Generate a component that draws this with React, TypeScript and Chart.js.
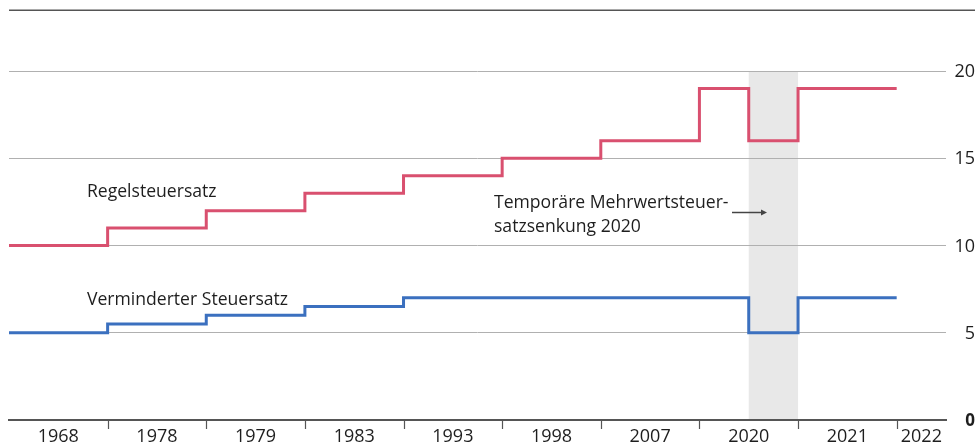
import React, { useEffect, useRef } from "react";
import { Chart, registerables } from "chart.js";

Chart.register(...registerables);

// Period labels (each label sits between two boundary tick marks)
const periodLabels = ["1968", "1978", "1979", "1983", "1993", "1998", "2007", "2020", "2021", "2022"];
// Start of each period on the x scale (period units); the last period ends at periodEnd
const periodStarts = [0, 1, 2, 3, 4, 5, 6, 7, 8, 9];
const periodEnd = 9.5;

// Regelsteuersatz: change points (x) and rate from there on (y)
const regelX = [0, 1, 2, 3, 4, 5, 6, 7, 7.5, 8, 9];
const regelY = [10, 11, 12, 13, 14, 15, 16, 19, 16, 19, 19];

// Verminderter Steuersatz
const vermX = [0, 1, 2, 3, 4, 7.5, 8, 9];
const vermY = [5, 5.5, 6, 6.5, 7, 5, 7, 7];

const yTicks = [0, 5, 10, 15, 20];
const yTickLabels = ["0", "5", "10", "15", "20"];
const yMax = 23.5;

// Temporary reduction band
const bandX = [7.5, 8];
const bandTopValue = 20;

const FONT = '"Open Sans", "Noto Sans", sans-serif';
const RED = "#d9506f";
const BLUE = "#3b70bf";
const TEXT = "#1e1e1e";

export default function App() {
  const canvasRef = useRef<HTMLCanvasElement | null>(null);

  useEffect(() => {
    let chart: Chart | null = null;
    let cancelled = false;

    const labelCenters = periodStarts.map((s, i) => {
      const e = i < periodStarts.length - 1 ? periodStarts[i + 1] : periodEnd;
      return (s + e) / 2;
    });

    const decorPlugin = {
      id: "decor",
      beforeDraw(c: any) {
        const { ctx, scales } = c;
        const x = scales.x;
        const y = scales.y;
        ctx.save();
        ctx.fillStyle = "#e8e8e8";
        const x0 = x.getPixelForValue(bandX[0]);
        const x1 = x.getPixelForValue(bandX[1]);
        const yt = y.getPixelForValue(bandTopValue);
        const yb = y.getPixelForValue(0);
        ctx.fillRect(x0, yt, x1 - x0, yb - yt);
        ctx.restore();
      },
      afterDraw(c: any) {
        const { ctx, chartArea, scales } = c;
        const x = scales.x;
        const y = scales.y;
        ctx.save();
        // top rule
        ctx.strokeStyle = "#555";
        ctx.lineWidth = 1.5;
        ctx.beginPath();
        const ty = Math.round(chartArea.top) + 0.25;
        ctx.moveTo(chartArea.left, ty);
        ctx.lineTo(c.width - 2, ty);
        ctx.stroke();

        // boundary tick marks below the axis
        ctx.strokeStyle = "#555";
        ctx.lineWidth = 1.2;
        const by = y.getPixelForValue(0);
        for (let i = 1; i < periodStarts.length; i++) {
          const px = Math.round(x.getPixelForValue(periodStarts[i])) + 0.5;
          ctx.beginPath();
          ctx.moveTo(px, by);
          ctx.lineTo(px, by + 9);
          ctx.stroke();
        }

        // y tick labels, right-aligned at the outer edge
        ctx.fillStyle = TEXT;
        ctx.textAlign = "right";
        ctx.textBaseline = "middle";
        const labelRight = c.width - 2;
        yTicks.forEach((v, i) => {
          ctx.font = v === 0 ? `bold 17px ${FONT}` : `18px ${FONT}`;
          ctx.fillText(yTickLabels[i], labelRight, y.getPixelForValue(v) + 1);
        });

        // annotations
        ctx.font = `17.6px ${FONT}`;
        ctx.textAlign = "left";
        ctx.textBaseline = "alphabetic";
        ctx.fillText("Regelsteuersatz", x.getPixelForValue(0.79), y.getPixelForValue(12.79));
        ctx.fillText("Verminderter Steuersatz", x.getPixelForValue(0.79), y.getPixelForValue(6.59));
        ctx.fillText("Temporäre Mehrwertsteuer-", x.getPixelForValue(4.917), y.getPixelForValue(12.16));
        ctx.fillText("satzsenkung 2020", x.getPixelForValue(4.917), y.getPixelForValue(10.78));

        // arrow
        const ax0 = x.getPixelForValue(7.33);
        const ax1 = x.getPixelForValue(7.685);
        const ay = Math.round(y.getPixelForValue(11.93)) + 0.5;
        ctx.strokeStyle = "#444";
        ctx.fillStyle = "#444";
        ctx.lineWidth = 1.5;
        ctx.beginPath();
        ctx.moveTo(ax0, ay);
        ctx.lineTo(ax1 - 4, ay);
        ctx.stroke();
        ctx.beginPath();
        ctx.moveTo(ax1, ay);
        ctx.lineTo(ax1 - 6, ay - 3);
        ctx.lineTo(ax1 - 6, ay + 3);
        ctx.closePath();
        ctx.fill();
        ctx.restore();
      },
    };

    const build = () => {
      if (cancelled || !canvasRef.current) return;
      chart = new Chart(canvasRef.current, {
        type: "line",
        data: {
          datasets: [
            {
              label: "Regelsteuersatz",
              data: regelX.map((v, i) => ({ x: v, y: regelY[i] })),
              stepped: "before",
              borderColor: RED,
              borderWidth: 3,
              pointRadius: 0,
              fill: false,
              borderJoinStyle: "miter",
              borderCapStyle: "butt",
            },
            {
              label: "Verminderter Steuersatz",
              data: vermX.map((v, i) => ({ x: v, y: vermY[i] })),
              stepped: "before",
              borderColor: BLUE,
              borderWidth: 3,
              pointRadius: 0,
              fill: false,
              borderJoinStyle: "miter",
              borderCapStyle: "butt",
            },
          ],
        },
        options: {
          animation: false,
          responsive: true,
          maintainAspectRatio: false,
          layout: { padding: { left: 9, right: 2, top: 10, bottom: 0 } },
          plugins: {
            legend: { display: false },
            tooltip: { enabled: false },
          },
          scales: {
            x: {
              type: "linear",
              min: 0,
              max: periodEnd,
              afterBuildTicks: (scale: any) => {
                scale.ticks = labelCenters.map((v) => ({ value: v }));
              },
              afterFit: (scale: any) => {
                scale.paddingLeft = 0;
                scale.paddingRight = 0;
                scale.paddingTop = 0;
                scale.paddingBottom = 0;
                scale.height = 26;
              },
              grid: { display: false, drawTicks: false },
              border: { display: true, color: "#555", width: 2 },
              ticks: {
                autoSkip: false,
                maxRotation: 0,
                padding: 7,
                color: TEXT,
                font: { family: FONT, size: 18, lineHeight: 1.1 },
                callback: (_v: any, idx: number) => periodLabels[idx],
              },
            },
            y: {
              type: "linear",
              position: "right",
              min: 0,
              max: yMax,
              afterBuildTicks: (scale: any) => {
                scale.ticks = yTicks.map((v) => ({ value: v }));
              },
              afterFit: (scale: any) => {
                scale.width = 29;
                scale.paddingTop = 0;
                scale.paddingBottom = 0;
              },
              grid: { color: "#b0b0b0", lineWidth: 1, drawTicks: false },
              border: { display: false },
              ticks: { display: false },
            },
          },
        },
        plugins: [decorPlugin],
      } as any);
    };

    const fontsApi = (document as any).fonts;
    if (fontsApi && fontsApi.load) {
      Promise.all([
        fontsApi.load(`18px "Open Sans"`),
        fontsApi.load(`bold 17px "Open Sans"`),
      ])
        .catch(() => null)
        .then(build);
    } else {
      build();
    }

    return () => {
      cancelled = true;
      if (chart) chart.destroy();
    };
  }, []);

  return (
    <div style={{ position: "absolute", left: 0, top: 0, width: 977, height: 446, background: "#fff" }}>
      <canvas ref={canvasRef} />
    </div>
  );
}
